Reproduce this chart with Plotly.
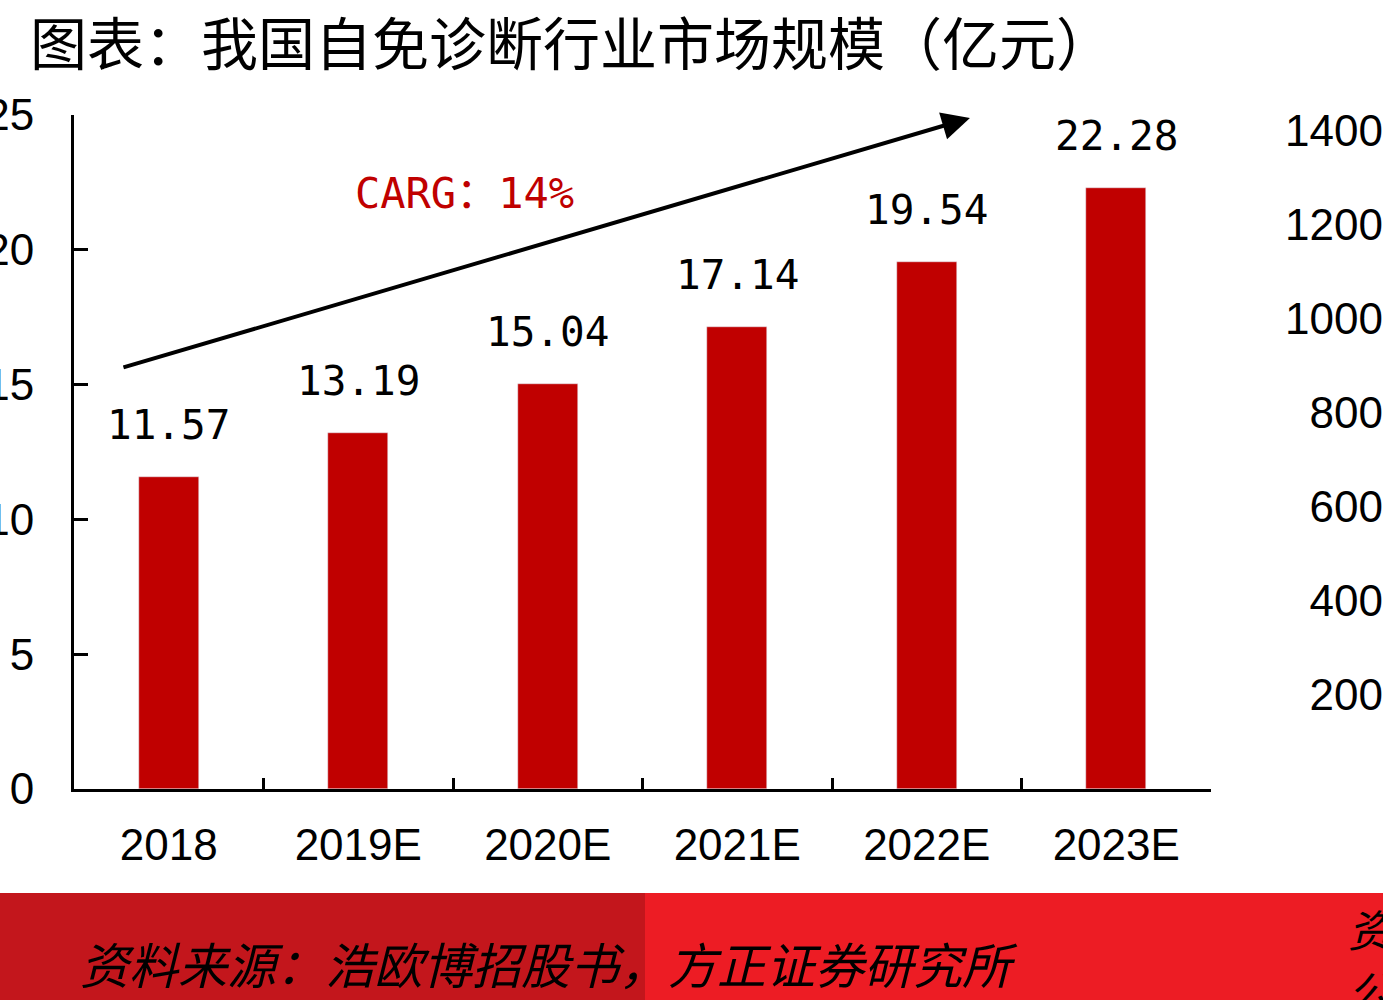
import plotly.graph_objects as go

categories = ["2018", "2019E", "2020E", "2021E", "2022E", "2023E"]
values = [11.57, 13.19, 15.04, 17.14, 19.54, 22.28]
left_ticks = [0, 5, 10, 15, 20, 25]
right_ticks = [200, 400, 600, 800, 1000, 1200, 1400]

title_text = "图表：我国自免诊断行业市场规模（亿元）"
source_text = "资料来源：浩欧博招股书，方正证券研究所"
cagr_text = "CARG：14%"

BAR = "#C00000"
W, H = 1383, 1000
ML, MT, MB = 74, 115, 211
plot_w = W - ML
plot_h = H - MT - MB
x_dom_end = (1211 - ML) / plot_w

def px_x(p):
    return (p - ML) / plot_w

def px_y(p):
    return (H - MB - p) / plot_h

fig = go.Figure()
fig.add_trace(go.Bar(x=categories, y=values, marker_color=BAR, width=0.315,
                     showlegend=False, hoverinfo="skip"))
# invisible trace for the right axis
fig.add_trace(go.Scatter(x=categories, y=[None]*len(categories), yaxis="y2",
                         showlegend=False, hoverinfo="skip"))

annotations = []
for i, v in enumerate(values):
    annotations.append(dict(x=i, y=v, xref="x", yref="y", text=f"{v:.2f}",
                            showarrow=False, yanchor="bottom", yshift=26,
                            font=dict(family="DejaVu Sans Mono", size=41, color="#000000")))

# CAGR arrow
annotations.append(dict(x=4.228, y=24.89, ax=-0.247, ay=15.62, xref="x", yref="y",
                        axref="x", ayref="y", text="", showarrow=True,
                        arrowhead=2, arrowsize=1.4, arrowwidth=4, arrowcolor="#000000"))
annotations.append(dict(x=1.563, y=22.1, xref="x", yref="y", text=cagr_text,
                        showarrow=False,
                        font=dict(family="DejaVu Sans Mono, Noto Sans CJK SC", size=42, color=BAR)))
# title
annotations.append(dict(x=px_x(28), y=px_y(40), xref="paper", yref="paper", text=title_text,
                        showarrow=False, xanchor="left", yanchor="middle",
                        font=dict(family="Noto Sans CJK SC", size=57, color="#000000")))
# footer source
annotations.append(dict(x=px_x(78), y=px_y(962), xref="paper", yref="paper", text=f"<i>{source_text}</i>",
                        showarrow=False, xanchor="left", yanchor="middle",
                        font=dict(family="Noto Sans CJK SC", size=49, color="#000000")))
for ch, yy in [("资", 928), ("公", 990)]:
    annotations.append(dict(x=px_x(1346), y=px_y(yy), xref="paper", yref="paper", text=f"<i>{ch}</i>",
                            showarrow=False, xanchor="left", yanchor="middle",
                            font=dict(family="Noto Sans CJK SC", size=44, color="#000000")))

shapes = [
    dict(type="rect", xref="paper", yref="paper", x0=px_x(-5), x1=px_x(645), y0=px_y(893), y1=px_y(1005),
         fillcolor="#C3161C", line=dict(width=0), layer="below"),
    dict(type="rect", xref="paper", yref="paper", x0=px_x(645), x1=px_x(1390), y0=px_y(893), y1=px_y(1005),
         fillcolor="#ED1C24", line=dict(width=0), layer="below"),
]

fig.update_layout(
    width=W, height=H,
    margin=dict(l=ML, r=0, t=MT, b=MB, pad=0, autoexpand=False),
    paper_bgcolor="white", plot_bgcolor="white",
    bargap=0,
    xaxis=dict(domain=[0, x_dom_end], type="category", range=[-0.5, 5.5], automargin=False,
               showline=True, linecolor="#000000", linewidth=3,
               ticks="inside", tickson="boundaries", ticklen=11, tickwidth=2.5, tickcolor="#000000",
               showgrid=False, zeroline=False,
               tickfont=dict(family="Liberation Sans", size=44, color="#000000"),
               ticklabelstandoff=15),
    yaxis=dict(range=[0, 25], tickvals=left_ticks, showline=True, linecolor="#000000", linewidth=3,
               automargin=False,
               ticks="inside", ticklen=14, tickwidth=2.5, tickcolor="#000000",
               showgrid=False, zeroline=False,
               tickfont=dict(family="Liberation Sans", size=44, color="#000000"),
               ticklabelstandoff=28),
    yaxis2=dict(range=[0, 1434], tickvals=right_ticks, overlaying="y", anchor="free", position=1.0,
                side="left", showline=False, ticks="", showgrid=False, zeroline=False,
                automargin=False,
                tickfont=dict(family="Liberation Sans", size=44, color="#000000"),
                ticklabelstandoff=0),
    annotations=annotations,
    shapes=shapes,
)

fig.write_html("out.html")
